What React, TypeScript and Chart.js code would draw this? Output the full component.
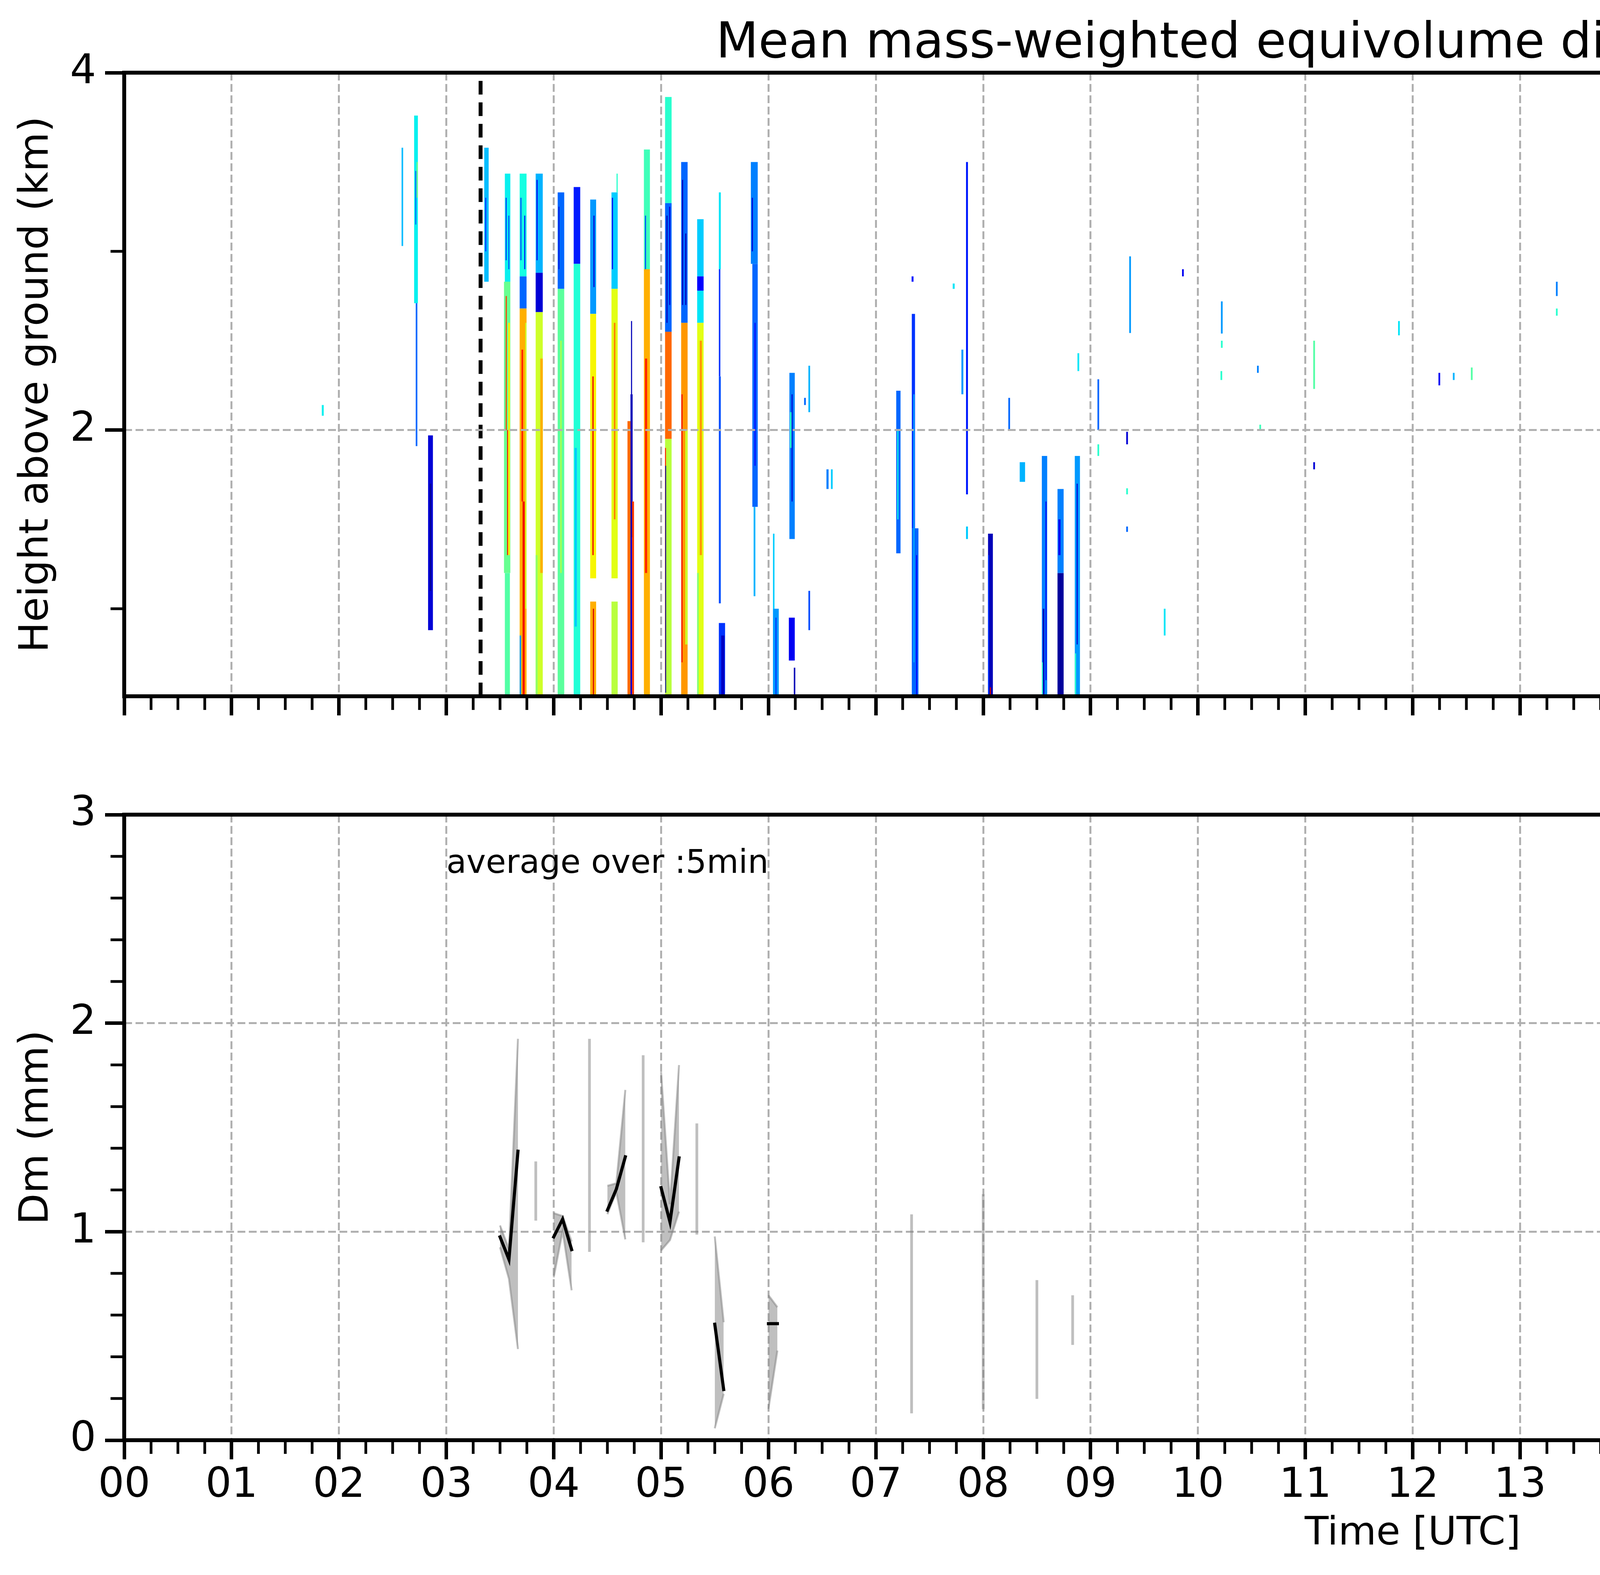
import { useEffect, useRef } from 'react'
import { Chart, registerables } from 'chart.js'

Chart.register(...registerables)

// ---------------------------------------------------------------------------
// values
// ---------------------------------------------------------------------------

const hourTicks = [0, 1, 2, 3, 4, 5, 6, 7, 8, 9, 10, 11, 12, 13, 14, 15, 16, 17, 18, 19, 20, 21, 22, 23]
const heightRange = [0.51, 4]
const heightTicks = [2, 4]
const heightMinorTicks = [1, 3]
const dmRange = [0, 3]
const dmTicks = [0, 1, 2, 3]
const dmMinorTicks = [0.2, 0.4, 0.6, 0.8, 1.2, 1.4, 1.6, 1.8, 2.2, 2.4, 2.6, 2.8]
const colorbarTicks = [0, 0.4, 0.8, 1.2, 1.6, 2]

// dashed vertical markers (UTC hours) and the grey span at the end of the day
const markerTimes = [3.319, 19.28]
const greySpan = [23.885, 24]

// Dm profile cells: [start h, end h, bottom km, top km, Dm mm]
const cellsEarly = [
  [1.84, 1.858, 2.08, 2.14, 0.72],
  [2.583, 2.598, 3.03, 3.58, 0.62],
  [2.7, 2.735, 2.71, 3.76, 0.72],
  [2.71, 2.72, 3.15, 3.45, 0.45],
  [2.722, 2.735, 3.3, 3.5, 0.95],
  [2.715, 2.73, 1.91, 2.71, 0.45],
  [2.83, 2.875, 0.88, 1.97, 0.15],
  [2.845, 2.86, 1.1, 1.7, 0.05],
  [3.353, 3.394, 2.83, 3.58, 0.62],
  [3.362, 3.372, 3.0, 3.3, 0.35],
]

const cells0330 = [
  [3.545, 3.596, 2.83, 3.435, 0.72],
  [3.553, 3.561, 2.95, 3.3, 0.3],
  [3.578, 3.586, 2.9, 3.2, 0.35],
  [3.537, 3.596, 1.2, 2.83, 0.95],
  [3.576, 3.592, 1.3, 2.6, 1.3],
  [3.553, 3.563, 2.0, 2.75, 1.7],
  [3.565, 3.575, 1.3, 2.0, 1.75],
  [3.545, 3.592, 0.51, 1.2, 0.9],
  [3.683, 3.747, 2.86, 3.435, 0.75],
  [3.69, 3.7, 2.95, 3.3, 0.4],
  [3.725, 3.735, 2.9, 3.2, 0.3],
  [3.683, 3.747, 2.68, 2.86, 0.45],
  [3.683, 3.747, 0.51, 2.68, 1.45],
  [3.735, 3.747, 1.0, 2.6, 1.2],
  [3.7, 3.715, 1.6, 2.45, 1.75],
  [3.71, 3.73, 0.51, 1.6, 1.8],
  [3.683, 3.697, 0.51, 0.85, 0.55],
  [3.832, 3.898, 2.88, 3.435, 0.6],
  [3.84, 3.85, 2.95, 3.4, 0.2],
  [3.832, 3.898, 2.66, 2.88, 0.15],
  [3.832, 3.898, 0.51, 2.66, 1.2],
  [3.875, 3.898, 1.2, 2.4, 1.45],
  [3.832, 3.85, 0.51, 1.3, 1.05],
]

const cells0400 = [
  [4.037, 4.098, 2.79, 3.33, 0.45],
  [4.045, 4.052, 2.9, 3.25, 0.15],
  [4.037, 4.098, 0.51, 2.79, 0.92],
  [4.06, 4.075, 1.2, 2.5, 1.1],
  [4.186, 4.247, 2.93, 3.36, 0.3],
  [4.186, 4.247, 0.51, 2.93, 0.78],
  [4.195, 4.215, 0.9, 1.9, 0.65],
  [4.34, 4.395, 2.65, 3.29, 0.55],
  [4.37, 4.38, 2.8, 3.2, 0.15],
  [4.34, 4.395, 1.17, 2.65, 1.3],
  [4.36, 4.372, 1.3, 2.3, 1.8],
  [4.34, 4.395, 0.51, 1.04, 1.45],
  [4.365, 4.375, 0.51, 1.0, 1.85],
  [4.538, 4.596, 2.79, 3.33, 0.65],
  [4.585, 4.596, 3.33, 3.435, 0.8],
  [4.542, 4.552, 2.9, 3.3, 0.2],
  [4.538, 4.596, 1.17, 2.79, 1.25],
  [4.56, 4.575, 1.5, 2.6, 1.55],
  [4.538, 4.596, 0.51, 1.04, 1.15],
  [4.72, 4.73, 1.9, 2.61, 0.1],
  [4.715, 4.735, 1.4, 2.2, 0.1],
  [4.687, 4.715, 0.51, 2.05, 1.6],
  [4.715, 4.73, 0.51, 1.4, 0.15],
  [4.73, 4.748, 0.51, 1.6, 1.7],
  [4.84, 4.896, 2.9, 3.57, 0.85],
  [4.85, 4.86, 2.6, 3.2, 0.4],
  [4.84, 4.896, 0.51, 2.9, 1.45],
  [4.85, 4.87, 1.2, 2.4, 1.75],
]

const cells0500 = [
  [5.037, 5.098, 3.27, 3.864, 0.8],
  [5.037, 5.098, 2.55, 3.27, 0.45],
  [5.05, 5.06, 2.6, 3.2, 0.1],
  [5.075, 5.085, 2.7, 3.25, 0.15],
  [5.037, 5.098, 1.95, 2.55, 1.6],
  [5.037, 5.098, 0.51, 1.95, 1.15],
  [5.037, 5.046, 0.6, 1.9, 1.75],
  [5.039, 5.047, 0.53, 1.8, 0.05],
  [5.187, 5.247, 2.6, 3.5, 0.45],
  [5.195, 5.205, 2.7, 3.4, 0.1],
  [5.225, 5.235, 2.7, 3.1, 0.1],
  [5.187, 5.247, 0.51, 2.6, 1.5],
  [5.19, 5.2, 0.7, 2.2, 1.8],
  [5.225, 5.247, 0.8, 2.0, 1.2],
  [5.336, 5.396, 2.86, 3.18, 0.65],
  [5.336, 5.396, 2.78, 2.86, 0.25],
  [5.336, 5.396, 2.6, 2.78, 0.7],
  [5.336, 5.396, 0.51, 2.6, 1.25],
  [5.36, 5.38, 1.3, 2.5, 1.5],
  [5.336, 5.35, 0.51, 1.2, 1.0],
]

const cells0530 = [
  [5.538, 5.556, 2.9, 3.33, 0.7],
  [5.538, 5.552, 2.3, 2.9, 0.35],
  [5.538, 5.556, 1.03, 2.3, 0.4],
  [5.538, 5.596, 0.51, 0.92, 0.35],
  [5.56, 5.59, 0.51, 0.85, 0.12],
  [5.836, 5.9, 2.93, 3.5, 0.5],
  [5.845, 5.855, 3.0, 3.3, 0.15],
  [5.85, 5.9, 1.57, 2.93, 0.45],
  [5.87, 5.88, 1.8, 2.6, 0.25],
  [5.862, 5.878, 1.07, 1.57, 0.6],
  [6.042, 6.056, 1.0, 1.42, 0.65],
  [6.042, 6.096, 0.51, 1.0, 0.55],
  [6.065, 6.075, 0.51, 0.95, 0.35],
  [6.195, 6.245, 1.39, 2.32, 0.5],
  [6.215, 6.225, 1.6, 2.2, 0.15],
  [6.2, 6.215, 1.9, 2.1, 0.8],
  [6.19, 6.245, 0.71, 0.95, 0.2],
  [6.236, 6.25, 0.51, 0.67, 0.1],
  [6.372, 6.388, 2.1, 2.36, 0.6],
  [6.372, 6.388, 0.88, 1.1, 0.4],
  [6.332, 6.348, 2.14, 2.18, 0.45],
  [6.54, 6.56, 1.67, 1.78, 0.5],
  [6.582, 6.598, 1.67, 1.78, 0.65],
]

const cells0700 = [
  [7.19, 7.23, 1.31, 2.22, 0.45],
  [7.2, 7.21, 1.5, 2.0, 0.75],
  [7.335, 7.365, 1.45, 2.65, 0.35],
  [7.335, 7.397, 0.51, 1.45, 0.45],
  [7.35, 7.36, 0.7, 2.2, 0.6],
  [7.375, 7.385, 0.51, 1.3, 0.25],
  [7.333, 7.351, 2.83, 2.86, 0.3],
  [7.716, 7.734, 2.79, 2.82, 0.7],
  [7.797, 7.815, 2.2, 2.45, 0.55],
  [7.84, 7.858, 1.64, 3.5, 0.3],
  [7.84, 7.858, 1.39, 1.46, 0.65],
  [8.045, 8.09, 0.51, 1.42, 0.1],
  [8.045, 8.055, 0.51, 1.3, 0.35],
  [8.062, 8.072, 0.52, 0.56, 1.85],
  [8.234, 8.25, 2.0, 2.18, 0.45],
  [8.34, 8.39, 1.71, 1.82, 0.6],
  [8.546, 8.596, 0.51, 1.855, 0.5],
  [8.555, 8.57, 0.51, 1.0, 0.1],
  [8.58, 8.59, 0.6, 1.6, 0.2],
  [8.546, 8.556, 0.51, 0.7, 0.8],
  [8.692, 8.749, 0.51, 1.2, 0.05],
  [8.692, 8.749, 1.2, 1.67, 0.5],
  [8.7, 8.72, 1.3, 1.5, 0.2],
  [8.853, 8.901, 0.51, 1.855, 0.55],
  [8.87, 8.88, 0.8, 1.7, 0.15],
  [8.853, 8.865, 0.51, 0.75, 0.8],
  [8.878, 8.894, 2.33, 2.43, 0.7],
  [9.064, 9.08, 2.0, 2.284, 0.45],
  [9.064, 9.08, 1.855, 1.92, 0.8],
]

const cellsScattered = [
  [9.36, 9.376, 2.543, 2.972, 0.55],
  [9.332, 9.348, 1.92, 1.99, 0.15],
  [9.332, 9.348, 1.64, 1.674, 0.8],
  [9.332, 9.348, 1.43, 1.46, 0.45],
  [9.852, 9.868, 2.86, 2.9, 0.2],
  [9.682, 9.698, 0.85, 1.0, 0.7],
  [10.214, 10.23, 2.54, 2.72, 0.55],
  [10.214, 10.23, 2.46, 2.5, 0.8],
  [10.21, 10.226, 2.28, 2.33, 0.8],
  [10.55, 10.566, 2.32, 2.36, 0.5],
  [10.572, 10.588, 2.0, 2.03, 0.85],
  [11.074, 11.09, 2.23, 2.5, 0.9],
  [11.074, 11.09, 1.78, 1.82, 0.15],
  [11.864, 11.88, 2.53, 2.61, 0.7],
  [12.24, 12.256, 2.25, 2.32, 0.2],
  [12.374, 12.39, 2.28, 2.32, 0.6],
  [12.542, 12.558, 2.28, 2.35, 0.9],
  [13.334, 13.35, 2.75, 2.83, 0.5],
  [13.334, 13.35, 2.64, 2.68, 0.8],
  [13.845, 13.861, 2.79, 2.86, 0.6],
  [16.714, 16.73, 2.43, 2.5, 0.8],
  [16.714, 16.73, 2.36, 2.39, 0.4],
  [16.834, 16.85, 2.79, 2.82, 0.9],
]

// 5-minute averages of Dm (mm): mean and the shaded spread
const avgTime = [3.5, 3.583, 3.667, 3.833, 4.0, 4.083, 4.167, 4.333, 4.5, 4.583, 4.667, 4.833,
  5.0, 5.083, 5.167, 5.333, 5.5, 5.583, 6.0, 6.083, 7.333, 8.0, 8.5, 8.833]
const avgDm = [0.975, 0.867, 1.386, null, 0.975, 1.06, 0.914, null, 1.103, 1.204, 1.359, null,
  1.211, 1.046, 1.354, null, 0.556, 0.243, 0.559, 0.559, null, null, null, null]
const avgDmHigh = [1.03, 0.917, 1.925, 1.337, 1.089, 1.075, 0.953, 1.925, 1.22, 1.232, 1.68, 1.846,
  1.766, 1.132, 1.799, 1.519, 0.977, 0.566, 0.695, 0.638, 1.083, 1.18, 0.768, 0.695]
const avgDmLow = [0.925, 0.774, 0.437, 1.053, 0.781, 1.003, 0.719, 0.903, 1.084, 1.19, 0.963, 0.949,
  0.91, 0.96, 1.096, 0.986, 0.057, 0.222, 0.15, 0.43, 0.129, 0.149, 0.198, 0.457]

const heatmapCells = [...cellsEarly, ...cells0330, ...cells0400, ...cells0500, ...cells0530, ...cells0700, ...cellsScattered]

// ---------------------------------------------------------------------------
// styling
// ---------------------------------------------------------------------------

const FONT = '"DejaVu Sans", sans-serif'
const GRID = '#b0b0b0'
const SPREAD = 'rgba(128, 128, 128, 0.5)'
const PLOT_LEFT = 318
const PLOT_RIGHT = 6915
const MAIN_W = 6960

Chart.defaults.font.family = FONT
Chart.defaults.color = '#000'

// 15 min minor ticks
const timeMinorTicks: number[] = []
for (let q = 1; q <= 96; q++) if (q % 4 !== 0 || q === 96) timeMinorTicks.push(q / 4)

// matplotlib 'jet'
const jetR = [[0, 0], [0.35, 0], [0.66, 1], [0.89, 1], [1, 0.5]]
const jetG = [[0, 0], [0.125, 0], [0.375, 1], [0.64, 1], [0.91, 0], [1, 0]]
const jetB = [[0, 0.5], [0.11, 1], [0.34, 1], [0.65, 0], [1, 0]]
function channel(v: number, pts: number[][]) {
  for (let i = 1; i < pts.length; i++) {
    if (v <= pts[i][0]) {
      const [x0, y0] = pts[i - 1]
      const [x1, y1] = pts[i]
      return y0 + (y1 - y0) * (v - x0) / (x1 - x0)
    }
  }
  return pts[pts.length - 1][1]
}
function jet(v: number) {
  const c = Math.min(1, Math.max(0, v))
  const r = Math.round(channel(c, jetR) * 255)
  const g = Math.round(channel(c, jetG) * 255)
  const b = Math.round(channel(c, jetB) * 255)
  return `rgb(${r},${g},${b})`
}

type TextItem = {
  text: string
  size: number
  x: (c: any) => number
  y: (c: any) => number
  align?: CanvasTextAlign
  baseline?: CanvasTextBaseline
  rotate?: number
}

function decorations(opts: {
  cells?: number[][]
  minorX?: number[]
  minorY?: number[]
  frame: number
  texts?: TextItem[]
}) {
  return {
    id: 'decorations',
    beforeDatasetsDraw(chart: any) {
      if (!opts.cells) return
      const { ctx, chartArea: a, scales } = chart
      const x = scales.x
      const y = scales.y
      ctx.save()
      ctx.beginPath()
      ctx.rect(a.left, a.top, a.right - a.left, a.bottom - a.top)
      ctx.clip()
      for (const [t0, t1, z0, z1, dm] of opts.cells) {
        const px0 = x.getPixelForValue(t0)
        const px1 = x.getPixelForValue(t1)
        const py0 = y.getPixelForValue(z1)
        const py1 = y.getPixelForValue(z0)
        ctx.fillStyle = jet(dm / 2)
        ctx.fillRect(px0, py0, px1 - px0, py1 - py0)
      }
      ctx.restore()
    },
    afterDraw(chart: any) {
      const { ctx, chartArea: a, scales } = chart
      ctx.save()
      ctx.strokeStyle = '#000'
      ctx.lineWidth = 7
      ctx.beginPath()
      for (const v of opts.minorX ?? []) {
        const px = scales.x.getPixelForValue(v)
        ctx.moveTo(px, a.bottom)
        ctx.lineTo(px, a.bottom + 35)
      }
      for (const v of opts.minorY ?? []) {
        const py = scales.y.getPixelForValue(v)
        ctx.moveTo(a.left, py)
        ctx.lineTo(a.left - 35, py)
      }
      ctx.stroke()
      ctx.lineWidth = opts.frame
      ctx.strokeRect(a.left, a.top, a.right - a.left, a.bottom - a.top)
      for (const t of opts.texts ?? []) {
        ctx.save()
        ctx.fillStyle = '#000'
        ctx.font = `${t.size}px ${FONT}`
        ctx.textAlign = t.align ?? 'left'
        ctx.textBaseline = t.baseline ?? 'alphabetic'
        ctx.translate(t.x(chart), t.y(chart))
        if (t.rotate) ctx.rotate(t.rotate)
        ctx.fillText(t.text, 0, 0)
        ctx.restore()
      }
      ctx.restore()
    },
  }
}

function gridStyle(z: number) {
  return {
    color: GRID,
    lineWidth: 5,
    tickLength: 49,
    tickWidth: 9,
    tickColor: '#000',
    tickBorderDash: [],
    z,
  }
}

function timeAxis(labels: boolean, height: number, z: number) {
  return {
    type: 'linear',
    min: 0,
    max: 24,
    afterBuildTicks: (s: any) => { s.ticks = hourTicks.map(v => ({ value: v })) },
    afterFit: (s: any) => { s.height = height },
    grid: gridStyle(z),
    border: { display: false, dash: [20, 9] },
    ticks: {
      display: labels,
      autoSkip: false,
      maxRotation: 0,
      minRotation: 0,
      padding: 6,
      font: { size: 105 },
      callback: (v: any) => String(v).padStart(2, '0'),
    },
    title: {
      display: labels,
      text: 'Time [UTC]',
      font: { size: 100 },
      padding: { top: 0, bottom: 0 },
    },
  }
}

function valueAxis(range: number[], ticks: number[], title: string, z: number) {
  return {
    type: 'linear',
    position: 'left',
    min: range[0],
    max: range[1],
    afterBuildTicks: (s: any) => { s.ticks = ticks.map(v => ({ value: v })) },
    afterFit: (s: any) => { s.width = PLOT_LEFT },
    grid: gridStyle(z),
    border: { display: false, dash: [20, 9] },
    ticks: { padding: 23, font: { size: 105 }, callback: (v: any) => String(v) },
    title: { display: true, text: title, font: { size: 104 }, padding: { top: 33, bottom: 0 } },
  }
}

const quiet = {
  legend: { display: false },
  tooltip: { enabled: false },
  title: { display: false },
}

function topConfig(): any {
  return {
    type: 'line',
    data: {
      datasets: [
        ...markerTimes.map(t => ({
          data: [{ x: t, y: heightRange[0] }, { x: t, y: heightRange[1] }],
          borderColor: '#000',
          borderWidth: 10,
          borderDash: [35, 20],
          pointRadius: 0,
          fill: false,
        })),
        {
          data: [{ x: greySpan[0], y: heightRange[1] }, { x: greySpan[1], y: heightRange[1] }],
          borderWidth: 0,
          backgroundColor: '#d9d9d9',
          fill: 'start',
          pointRadius: 0,
        },
      ],
    },
    options: {
      animation: false,
      responsive: false,
      events: [],
      layout: { padding: { left: 0, top: 186, right: MAIN_W - PLOT_RIGHT, bottom: 18 } },
      plugins: quiet,
      scales: {
        x: timeAxis(false, 100, 1),
        y: valueAxis(heightRange, heightTicks, 'Height above ground (km)', 1),
      },
    },
    plugins: [decorations({
      cells: heatmapCells,
      minorX: timeMinorTicks,
      minorY: heightMinorTicks,
      frame: 10,
      texts: [{
        text: 'Mean mass-weighted equivolume diameter on 20250704',
        size: 126,
        align: 'center',
        x: (c: any) => (c.chartArea.left + c.chartArea.right) / 2 + 22,
        y: () => 147,
      }],
    })],
  }
}

function bottomConfig(): any {
  // split the 5-min series into runs of consecutive samples
  const runs: number[][] = []
  let cur: number[] = []
  avgTime.forEach((t, i) => {
    if (cur.length && t - avgTime[cur[cur.length - 1]] > 0.09) {
      runs.push(cur)
      cur = []
    }
    cur.push(i)
  })
  if (cur.length) runs.push(cur)

  const datasets: any[] = []
  for (const run of runs) {
    if (run.length === 1) {
      const i = run[0]
      datasets.push({
        data: [{ x: avgTime[i], y: avgDmLow[i] }, { x: avgTime[i], y: avgDmHigh[i] }],
        borderColor: SPREAD,
        borderWidth: 7,
        pointRadius: 0,
        fill: false,
        order: 1,
      })
      continue
    }
    datasets.push({
      data: run.map(i => ({ x: avgTime[i], y: avgDmHigh[i] })),
      borderColor: SPREAD,
      backgroundColor: SPREAD,
      borderWidth: 5,
      pointRadius: 0,
      fill: '+1',
      order: 1,
    })
    datasets.push({
      data: run.map(i => ({ x: avgTime[i], y: avgDmLow[i] })),
      borderColor: SPREAD,
      borderWidth: 5,
      pointRadius: 0,
      fill: false,
      order: 1,
    })
    datasets.push({
      data: run.map(i => ({ x: avgTime[i], y: avgDm[i] })),
      borderColor: '#000',
      borderWidth: 8,
      borderCapStyle: 'square',
      pointRadius: 0,
      fill: false,
      order: 0,
    })
  }

  return {
    type: 'line',
    data: { datasets },
    options: {
      animation: false,
      responsive: false,
      events: [],
      layout: { padding: { left: 0, top: 185, right: MAIN_W - PLOT_RIGHT, bottom: 44 } },
      plugins: quiet,
      scales: {
        x: timeAxis(true, 301, 0),
        y: valueAxis(dmRange, dmTicks, 'Dm (mm)', 0),
      },
    },
    plugins: [decorations({
      minorX: timeMinorTicks,
      minorY: dmMinorTicks,
      frame: 10,
      texts: [{
        text: 'average over :5min',
        size: 84,
        x: (c: any) => c.scales.x.getPixelForValue(3.0),
        y: (c: any) => c.scales.y.getPixelForValue(2.72),
      }],
    })],
  }
}

function colorbarConfig(): any {
  return {
    type: 'bar',
    data: {
      labels: [''],
      datasets: [{
        data: [[colorbarTicks[0], colorbarTicks[colorbarTicks.length - 1]]],
        backgroundColor: (c: any) => {
          const { chart } = c
          const a = chart.chartArea
          if (!a) return '#000'
          const g = chart.ctx.createLinearGradient(0, a.bottom, 0, a.top)
          for (let i = 0; i <= 64; i++) g.addColorStop(i / 64, jet(i / 64))
          return g
        },
        borderWidth: 0,
        barPercentage: 1,
        categoryPercentage: 1,
      }],
    },
    options: {
      animation: false,
      responsive: false,
      events: [],
      layout: { padding: { left: 32, top: 186, right: 0, bottom: 115 } },
      plugins: quiet,
      scales: {
        x: { display: false },
        y: {
          position: 'right',
          min: 0,
          max: 2,
          afterBuildTicks: (s: any) => { s.ticks = colorbarTicks.map(v => ({ value: v })) },
          afterFit: (s: any) => { s.width = 337 },
          grid: { drawOnChartArea: false, tickLength: 21, tickWidth: 6, tickColor: '#000', color: '#000' },
          border: { display: false },
          ticks: { padding: 25, font: { size: 80 }, callback: (v: any) => Number(v).toFixed(1) },
        },
      },
    },
    plugins: [decorations({
      frame: 6,
      texts: [{
        text: 'Dm (mm)',
        size: 80,
        align: 'center',
        baseline: 'middle',
        rotate: -Math.PI / 2,
        x: () => 389,
        y: (c: any) => (c.chartArea.top + c.chartArea.bottom) / 2,
      }],
    })],
  }
}

export default function App() {
  const topRef = useRef<HTMLCanvasElement>(null)
  const bottomRef = useRef<HTMLCanvasElement>(null)
  const barRef = useRef<HTMLCanvasElement>(null)

  useEffect(() => {
    const charts: Chart[] = []
    if (topRef.current) charts.push(new Chart(topRef.current, topConfig()))
    if (bottomRef.current) charts.push(new Chart(bottomRef.current, bottomConfig()))
    if (barRef.current) charts.push(new Chart(barRef.current, colorbarConfig()))
    return () => {
      charts.forEach(c => c.destroy())
    }
  }, [])

  return (
    <div style={{ position: 'absolute', left: 0, top: 0, width: 7442, height: 4031, background: '#fff' }}>
      <canvas ref={topRef} width={MAIN_W} height={1900} style={{ position: 'absolute', left: 0, top: 0 }} />
      <canvas ref={bottomRef} width={MAIN_W} height={2131} style={{ position: 'absolute', left: 0, top: 1900 }} />
      <canvas ref={barRef} width={482} height={1900} style={{ position: 'absolute', left: MAIN_W, top: 0 }} />
    </div>
  )
}
